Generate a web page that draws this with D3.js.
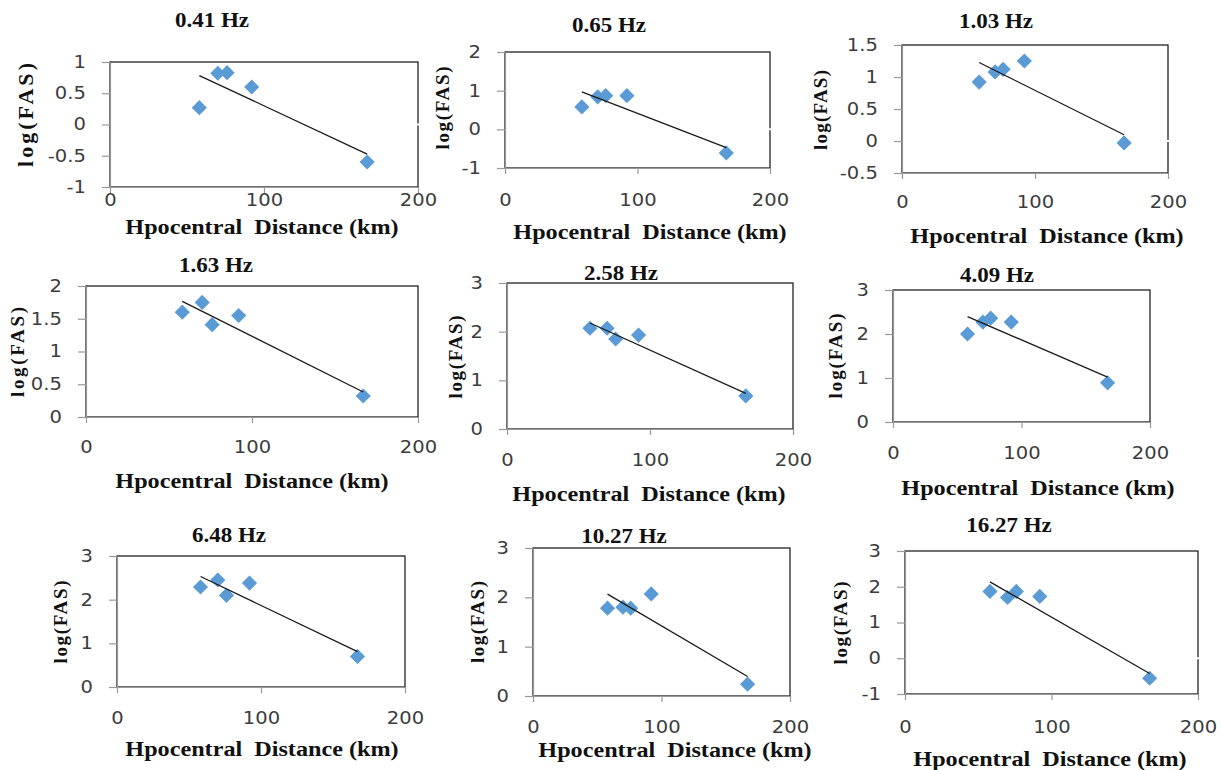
<!DOCTYPE html>
<html>
<head>
<meta charset="utf-8">
<script src="https://cdn.jsdelivr.net/npm/d3@7/dist/d3.min.js"></script>
<style>
body { margin: 0; background: #fff; }
</style>
</head>
<body>
<div id="chart"></div>
<script>
// hypocentral distance of the five stations (km)
var distances = [58, 70, 76, 92, 167];

// panel titles (frequency)
var freqLabels = ["0.41 Hz", "0.65 Hz", "1.03 Hz", "1.63 Hz", "2.58 Hz", "4.09 Hz", "6.48 Hz", "10.27 Hz", "16.27 Hz"];

// log(FAS) read for each station, one array per frequency
var fas041 = [0.27, 0.82, 0.83, 0.60, -0.60];
var fas065 = [0.58, 0.84, 0.87, 0.87, -0.61];
var fas103 = [0.92, 1.08, 1.12, 1.25, -0.03];
var fas163 = [1.60, 1.75, 1.41, 1.55, 0.32];
var fas258 = [2.07, 2.07, 1.85, 1.93, 0.68];
var fas409 = [2.00, 2.27, 2.36, 2.27, 0.89];
var fas648 = [2.29, 2.45, 2.10, 2.38, 0.70];
var fas1027 = [1.78, 1.80, 1.78, 2.07, 0.24];
var fas1627 = [1.87, 1.70, 1.87, 1.73, -0.56];
var fasByPanel = [fas041, fas065, fas103, fas163, fas258, fas409, fas648, fas1027, fas1627];

// y axis ranges and tick labels
var yDomains = [[-1, 1], [-1, 2], [-0.5, 1.5], [0, 2], [0, 3], [0, 3], [0, 3], [0, 3], [-1, 3]];
var yTickVals = [
  [-1, -0.5, 0, 0.5, 1],
  [-1, 0, 1, 2],
  [-0.5, 0, 0.5, 1, 1.5],
  [0, 0.5, 1, 1.5, 2],
  [0, 1, 2, 3],
  [0, 1, 2, 3],
  [0, 1, 2, 3],
  [0, 1, 2, 3],
  [-1, 0, 1, 2, 3]
];
var xTickVals = [0, 100, 200];

// layout of each panel (plot box, label positions)
var boxes = [
  {l: 110, t: 62,  r: 418,  b: 187, title: [212, 20],  xlab: 200, xtitle: [262, 226],  ytitle: [25, 115],  ylen: 104, ysize: 22},
  {l: 505, t: 52,  r: 770,  b: 168, title: [609, 25],  xlab: 200, xtitle: [650, 231],  ytitle: [442, 108], ylen: 83, ysize: 19},
  {l: 902, t: 45,  r: 1168, b: 173, title: [996, 21],  xlab: 202, xtitle: [1047, 235], ytitle: [820, 110], ylen: 80, ysize: 19},
  {l: 86,  t: 286, r: 418,  b: 417, title: [216, 265], xlab: 447, xtitle: [252, 480],  ytitle: [17, 352],  ylen: 90, ysize: 19},
  {l: 507, t: 283, r: 793,  b: 429, title: [621, 273], xlab: 460, xtitle: [649, 493],  ytitle: [455, 357], ylen: 83, ysize: 19},
  {l: 893, t: 290, r: 1150, b: 422, title: [997, 275], xlab: 453, xtitle: [1038, 487], ytitle: [835, 356], ylen: 85, ysize: 19},
  {l: 117, t: 556, r: 405,  b: 687, title: [229, 535], xlab: 718, xtitle: [262, 748],  ytitle: [60, 622],  ylen: 83, ysize: 19},
  {l: 533, t: 548, r: 790,  b: 696, title: [624, 536], xlab: 727, xtitle: [675, 749],  ytitle: [477, 622], ylen: 82, ysize: 19},
  {l: 905, t: 551, r: 1198, b: 694, title: [1009, 525], xlab: 727, xtitle: [1050, 758], ytitle: [840, 623], ylen: 83, ysize: 19}
];

var svg = d3.select("#chart").append("svg")
  .attr("width", 1222)
  .attr("height", 770);

var serif = "'Liberation Serif', 'Times New Roman', serif";
var sans = "'DejaVu Sans', Verdana, sans-serif";

function drawPanel(i) {
  var box = boxes[i], vals = fasByPanel[i];
  var x = d3.scaleLinear().domain([0, 200]).range([box.l, box.r]);
  var y = d3.scaleLinear().domain(yDomains[i]).range([box.b, box.t]);
  var g = svg.append("g");

  // plot area frame
  g.append("rect")
    .attr("x", box.l).attr("y", box.t)
    .attr("width", box.r - box.l).attr("height", box.b - box.t)
    .attr("fill", "none")
    .attr("stroke", "#222")
    .attr("stroke-width", 1.3);

  // horizontal axis crosses at 0 (drawn white, breaks the frame)
  if (yDomains[i][0] < 0) {
    g.append("line")
      .attr("x1", box.l + 1).attr("x2", box.r + 4)
      .attr("y1", y(0)).attr("y2", y(0))
      .attr("stroke", "#fff")
      .attr("stroke-width", 2);
  }

  // y axis
  var ya = g.append("g")
    .attr("transform", "translate(" + box.l + ",0)")
    .call(d3.axisLeft(y).tickValues(yTickVals[i]).tickSize(8).tickSizeOuter(0)
      .tickPadding(13).tickFormat(function(d) { return String(d); }));
  ya.attr("font-family", sans).attr("font-size", 17);
  ya.selectAll("path, line").attr("stroke", "#999").attr("stroke-width", 1.2);
  ya.selectAll("text").attr("fill", "#3c3c3c").attr("transform", "scale(1.15,1)");

  // x axis
  var xa = g.append("g")
    .attr("transform", "translate(0," + box.b + ")")
    .call(d3.axisBottom(x).tickValues(xTickVals).tickSize(6).tickSizeOuter(0)
      .tickFormat(function(d) { return String(d); }));
  xa.attr("font-family", sans).attr("font-size", 17);
  xa.selectAll("path, line").attr("stroke", "#999").attr("stroke-width", 1.2);
  xa.selectAll("text")
    .attr("fill", "#3c3c3c")
    .attr("y", box.xlab - box.b)
    .attr("dy", "0.36em")
    .attr("transform", "scale(1.15,1)");

  // markers
  g.selectAll(".pt")
    .data(vals)
    .enter().append("path")
    .attr("class", "pt")
    .attr("d", d3.symbol().type(d3.symbolSquare).size(115))
    .attr("transform", function(d, k) {
      return "translate(" + x(distances[k]) + "," + y(d) + ") rotate(45)";
    })
    .attr("fill", "#5b9bd5");

  // linear trend line (least squares over the points)
  var mx = d3.mean(distances), my = d3.mean(vals);
  var sxy = d3.sum(distances, function(d, k) { return (d - mx) * (vals[k] - my); });
  var sxx = d3.sum(distances, function(d) { return (d - mx) * (d - mx); });
  var slope = sxy / sxx;
  var trend = d3.extent(distances).map(function(d) { return [d, my + slope * (d - mx)]; });
  g.append("path")
    .datum(trend)
    .attr("d", d3.line().x(function(d) { return x(d[0]); }).y(function(d) { return y(d[1]); }))
    .attr("fill", "none")
    .attr("stroke", "#1a1a1a")
    .attr("stroke-width", 1.3);

  // title
  g.append("text")
    .attr("transform", "translate(" + box.title[0] + "," + box.title[1] + ") scale(1.15,1)")
    .attr("dy", "0.35em")
    .attr("text-anchor", "middle")
    .attr("font-family", serif)
    .attr("font-weight", "bold")
    .attr("font-size", 20)
    .attr("fill", "#111")
    .text(freqLabels[i]);

  // x axis title
  g.append("text")
    .attr("transform", "translate(" + box.xtitle[0] + "," + box.xtitle[1] + ") scale(1.1,1)")
    .attr("dy", "0.35em")
    .attr("text-anchor", "middle")
    .attr("font-family", serif)
    .attr("font-weight", "bold")
    .attr("font-size", 22)
    .attr("fill", "#111")
    .style("white-space", "pre")
    .text("Hpocentral  Distance (km)");

  // y axis title
  g.append("text")
    .attr("transform", "translate(" + box.ytitle[0] + "," + box.ytitle[1] + ") rotate(-90)")
    .attr("dy", "0.35em")
    .attr("text-anchor", "middle")
    .attr("font-family", serif)
    .attr("font-weight", "bold")
    .attr("font-size", box.ysize)
    .attr("textLength", box.ylen)
    .attr("lengthAdjust", "spacing")
    .attr("fill", "#111")
    .text("log(FAS)");
}

for (var i = 0; i < fasByPanel.length; i++) {
  drawPanel(i);
}
</script>
</body>
</html>
